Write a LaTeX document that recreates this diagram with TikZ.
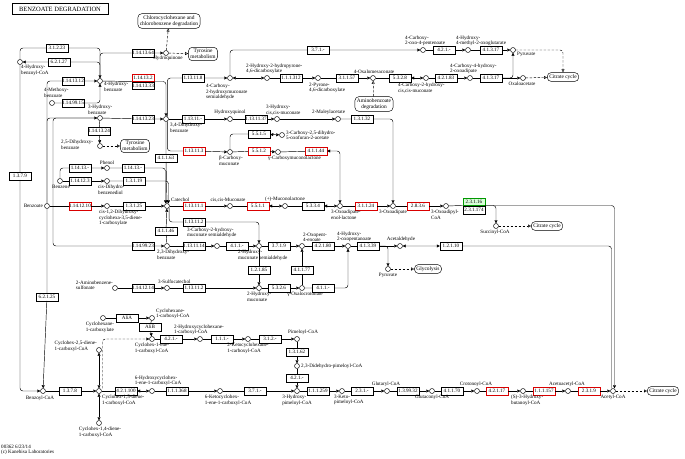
\documentclass[tikz,border=0pt]{standalone}
\usepackage{fontspec}
\setmainfont{Liberation Serif}
\usetikzlibrary{arrows.meta,positioning}
\tikzset{
  cpd/.style={circle,draw,fill=white,minimum size=5pt,inner sep=0pt,line width=0.45pt},
  ec/.style={draw,fill=white,minimum width=22pt,minimum height=7.5pt,inner sep=0.4pt,
    font=\fontsize{5.1}{5.2}\selectfont,line width=0.45pt},
  ecred/.style={ec,draw=red!85!black},
  ecgreen/.style={ec,draw=green!60!black,fill=green!15},
  lbl/.style={font=\fontsize{5.1}{5.3}\selectfont,inner sep=0pt,align=left},
  pmap/.style={draw,rounded corners=4pt,fill=white,font=\fontsize{5.4}{5.8}\selectfont,
    inner sep=2pt,align=center,line width=0.45pt},
  rxn/.style={line width=0.45pt,rounded corners=3pt,-{Triangle[length=3pt,width=3pt]}},
  rev/.style={line width=0.45pt,rounded corners=3pt,
    {Triangle[length=3pt,width=3pt]}-{Triangle[length=3pt,width=3pt]}},
  noarr/.style={line width=0.45pt,rounded corners=3pt},
  maplink/.style={line width=0.45pt,dash pattern=on 2.5pt off 1.5pt,rounded corners=3pt,
    -{Triangle[open,length=3pt,width=3pt]}}
}
\begin{document}
\begin{tikzpicture}[x=1pt,y=-1pt]
\useasboundingbox (0,0) rectangle (685,458);

\node[draw,line width=0.9pt,minimum width=96pt,minimum height=11pt,inner sep=1pt,
  font=\fontsize{6.5}{6.5}\selectfont] (title) at (60,9) {BENZOATE DEGRADATION};

% pathway maps
\node[pmap] (mapChloro) at (169,21) {Chlorocyclohexane and\\chlorobenzene degradation};
\node[pmap] (mapTyr1) at (203,54) {Tyrosine\\metabolism};
\node[pmap] (mapTyr2) at (135,146) {Tyrosine\\metabolism};
\node[pmap] (mapAmino) at (374,104) {Aminobenzoate\\degradation};
\node[pmap] (mapTCA1) at (563,77) {Citrate cycle};
\node[pmap] (mapTCA2) at (547,226) {Citrate cycle};
\node[pmap] (mapGly) at (428,269) {Glycolysis};
\node[pmap] (mapTCA3) at (663,391) {Citrate cycle};

% compounds
\node[cpd] (hbzcoa) at (20,62) {};
\node[cpd] (hqn) at (166,53) {};
\node[cpd] (hbz) at (100,81) {};
\node[cpd] (mbz) at (52,103) {};
\node[cpd] (hbz3) at (100,118) {};
\node[cpd] (pca) at (166,119) {};
\node[cpd] (gen) at (100,146) {};
\node[cpd] (phenol) at (107,168) {};
\node[cpd] (benzene) at (60,181) {};
\node[cpd] (dhbd) at (107,181) {};
\node[cpd] (bz) at (47,206) {};
\node[cpd] (dhcd) at (107,206) {};
\node[cpd] (cat) at (167,206) {};
\node[cpd] (dhb23) at (167,246) {};
\node[cpd] (absulf) at (115,288) {};
\node[cpd] (sulfcat) at (167,288) {};
\node[cpd] (chms) at (230,78) {};
\node[cpd] (hpdc) at (267,78) {};
\node[cpd] (pdc) at (318,78) {};
\node[cpd] (oma) at (373,78) {};
\node[cpd] (chm) at (426,78) {};
\node[cpd] (cha) at (470,78) {};
\node[cpd] (oaa) at (523,78) {};
\node[cpd] (copd) at (423,50) {};
\node[cpd] (hmog) at (468,50) {};
\node[cpd] (pyr1) at (513,50) {};
\node[cpd] (hxq) at (230,119) {};
\node[cpd] (hmuc) at (277,119) {};
\node[cpd] (mla) at (338,119) {};
\node[cpd] (cdof) at (282,135) {};
\node[cpd] (bcm) at (230,152) {};
\node[cpd] (gcml) at (278,152) {};
\node[cpd] (ccm) at (230,206) {};
\node[cpd] (mlac) at (285,206) {};
\node[cpd] (oael) at (340,206) {};
\node[cpd] (oxad) at (393,206) {};
\node[cpd] (oxcoa) at (446,206) {};
\node[cpd] (succoa) at (496,226) {};
\node[cpd] (chmsa) at (217,246) {};
\node[cpd] (hms) at (259,246) {};
\node[cpd] (ope) at (302,246) {};
\node[cpd] (hopa) at (348,246) {};
\node[cpd] (acald) at (400,246) {};
\node[cpd] (pyr2) at (388,269) {};
\node[cpd] (hmuc2) at (259,288) {};
\node[cpd] (oxcr) at (302,288) {};
\node[cpd] (chc) at (103,318) {};
\node[cpd] (chccoa) at (152,318) {};
\node[cpd] (checoa) at (152,339) {};
\node[cpd] (hchcoa) at (200,339) {};
\node[cpd] (kchcoa) at (248,339) {};
\node[cpd] (pimcoa) at (297,339) {};
\node[cpd] (ddpcoa) at (297,366) {};
\node[cpd] (c25coa) at (99,350) {};
\node[cpd] (bzcoa) at (43,391) {};
\node[cpd] (c15coa) at (99,391) {};
\node[cpd] (c14coa) at (99,423) {};
\node[cpd] (hchecoa) at (152,391) {};
\node[cpd] (kchecoa) at (220,391) {};
\node[cpd] (hpcoa) at (297,391) {};
\node[cpd] (kpcoa) at (342,391) {};
\node[cpd] (glcoa) at (387,391) {};
\node[cpd] (gccoa) at (432,391) {};
\node[cpd] (crcoa) at (477,391) {};
\node[cpd] (hbcoa) at (523,391) {};
\node[cpd] (aacoa) at (568,391) {};
\node[cpd] (accoa) at (613,391) {};

% enzymes
\node[ec] (ec31223) at (57,48) {3.1.2.23};
\node[ec] (ec62127) at (59,62) {6.2.1.27};
\node[ec] (ec1141364) at (143,53) {1.14.13.64};
\node[ecred] (ec114132) at (143,77.5) {1.14.13.2};
\node[ec] (ec1141333) at (143,85.5) {1.14.13.33};
\node[ec] (ec1141312) at (73,81) {1.14.13.12};
\node[ec] (ec1149915) at (73,103) {1.14.99.15};
\node[ec] (ec1141323) at (143,119) {1.14.13.23};
\node[ec] (ec1141324) at (99,131) {1.14.13.24};
\node[ec] (ec11413a) at (80,168) {1.14.13.-};
\node[ec] (ec11413b) at (133,168) {1.14.13.-};
\node[ec] (ec114123) at (80,181) {1.14.12.3};
\node[ec] (ec13119) at (134,181) {1.3.1.19};
\node[ecred] (ec1141210) at (80,206) {1.14.12.10};
\node[ec] (ec13125) at (134,206) {1.3.1.25};
\node[ec] (ec41163) at (166,158) {4.1.1.63};
\node[ec] (ec41146) at (166,231) {4.1.1.46};
\node[ec] (ec1149923) at (143,246) {1.14.99.23};
\node[ec] (ec1131114) at (194,246) {1.13.11.14};
\node[ec] (ec4114a) at (237,246) {4.1.1.-};
\node[ec] (ec1131102) at (194,222) {1.13.11.2};
\node[ec] (ec1141214) at (143,288) {1.14.12.14};
\node[ec] (ec1131102b) at (194,288) {1.13.11.2};
\node[ec] (ec3719) at (279,246) {3.7.1.9};
\node[ec] (ec42180) at (323,246) {4.2.1.80};
\node[ec] (ec41339) at (368,246) {4.1.3.39};
\node[ec] (ec12110) at (451,246) {1.2.1.10};
\node[ec] (ec12185) at (259,270) {1.2.1.85};
\node[ec] (ec41177) at (302,270) {4.1.1.77};
\node[ec] (ec5326) at (279,288) {5.3.2.6};
\node[ec] (ec4114b) at (323,288) {4.1.1.-};
\node[ecred] (ec113111) at (194,206) {1.13.11.1};
\node[ecred] (ec5511) at (258,206) {5.5.1.1};
\node[ec] (ec5334) at (313,206) {5.3.3.4};
\node[ecred] (ec31124) at (366,206) {3.1.1.24};
\node[ecred] (ec2836) at (418,206) {2.8.3.6};
\node[ecgreen] (ec23116) at (474,201.5) {2.3.1.16};
\node[ec] (ec231174) at (474,210) {2.3.1.174};
\node[ecred] (ec113113) at (194,151) {1.13.11.3};
\node[ecred] (ec5512) at (259,151) {5.5.1.2};
\node[ecred] (ec41144) at (316,151) {4.1.1.44};
\node[ec] (ec5515) at (259,134) {5.5.1.5};
\node[ec] (ec11311) at (193,119) {1.13.11.-};
\node[ec] (ec1131137) at (256,119) {1.13.11.37};
\node[ec] (ec13132) at (362,119) {1.3.1.32};
\node[ec] (ec113118) at (193,78) {1.13.11.8};
\node[ec] (ec111312) at (291,78) {1.1.1.312};
\node[ec] (ec31157) at (347,78) {3.1.1.57};
\node[ec] (ec5328) at (400,78) {5.3.2.8};
\node[ec] (ec42183) at (446,78) {4.2.1.83};
\node[ec] (ec41317a) at (491,78) {4.1.3.17};
\node[ec] (ec371a) at (318,50) {3.7.1.-};
\node[ec] (ec421a) at (444,50) {4.2.1.-};
\node[ec] (ec41317b) at (491,50) {4.1.3.17};
\node[ec] (ec1379) at (20,176) {1.3.7.9};
\node[ec] (ec62125) at (47,297) {6.2.1.25};
\node[ec] (ecAliA) at (127,318) {AliA};
\node[ec] (ecAliB) at (150,327) {AliB};
\node[ec] (ec421b) at (171,339) {4.2.1.-};
\node[ec] (ec111a) at (222,339) {1.1.1.-};
\node[ec] (ec312) at (270,339) {3.1.2.-};
\node[ec] (ec13162) at (297,352) {1.3.1.62};
\node[ec] (ec421c) at (297,378) {4.2.1.-};
\node[ec] (ec1378) at (70,391) {1.3.7.8};
\node[ec] (ec421100) at (126,391) {4.2.1.100};
\node[ec] (ec111368) at (177,391) {1.1.1.368};
\node[ec] (ec371b) at (255,391) {3.7.1.-};
\node[ec] (ec111259) at (318,391) {1.1.1.259};
\node[ec] (ec231a) at (362,391) {2.3.1.-};
\node[ec] (ec139932) at (408,391) {1.3.99.32};
\node[ec] (ec41170) at (452,391) {4.1.1.70};
\node[ecred] (ec42117) at (497,391) {4.2.1.17};
\node[ecred] (ec111157) at (544,391) {1.1.1.157};
\node[ecred] (ec2319) at (589,391) {2.3.1.9};

% labels
\node[lbl,anchor=north west] (lhbzcoa) at (21,65) {4-Hydroxy-\\benzoyl-CoA};
\node[lbl,anchor=north] (lhqn) at (168,56) {Hydroquinone};
\node[lbl,anchor=north west] (lhbz) at (104,82) {4-Hydroxy-\\benzoate};
\node[lbl,anchor=north west] (lmbz) at (44,88) {4-Methoxy-\\benzoate};
\node[lbl,anchor=north west] (lhbz3) at (88,105) {3-Hydroxy-\\benzoate};
\node[lbl,anchor=north west] (lpca) at (170,123) {3,4-Dihydroxy-\\benzoate};
\node[lbl,anchor=north west] (lgen) at (61,140) {2,5-Dihydroxy-\\benzoate};
\node[lbl,anchor=south] (lphenol) at (107,165) {Phenol};
\node[lbl,anchor=north] (lbenzene) at (61,185) {Benzene};
\node[lbl,anchor=north west] (ldhbd) at (98,185) {cis-Dihydro-\\benzenediol};
\node[lbl,anchor=east] (lbz) at (43,206) {Benzoate};
\node[lbl,anchor=north west] (ldhcd) at (99,210) {cis-1,2-Dihydroxy-\\cyclohexa-3,5-diene-\\1-carboxylate};
\node[lbl,anchor=south west] (lcat) at (171,201.5) {Catechol};
\node[lbl,anchor=north west] (ldhb23) at (157,250) {2,3-Dihydroxy-\\benzoate};
\node[lbl,anchor=south east] (labsulf) at (113,290) {2-Aminobenzene-\\sulfonate};
\node[lbl,anchor=south west] (lsulfcat) at (158,284) {3-Sulfocatechol};
\node[lbl,anchor=north west] (lchms) at (206,84) {4-Carboxy-\\2-hydroxymuconate\\semialdehyde};
\node[lbl,anchor=south west] (lhpdc) at (246,74) {2-Hydroxy-2-hydropyrone-\\4,6-dicarboxylate};
\node[lbl,anchor=north west] (lpdc) at (309,83) {2-Pyrone-\\4,6-dicarboxylate};
\node[lbl,anchor=south] (loma) at (374,74) {4-Oxalomesaconate};
\node[lbl,anchor=north west] (lchm) at (398,83) {4-Carboxy-2-hydroxy-\\cis,cis-muconate};
\node[lbl,anchor=south west] (lcha) at (450,74) {4-Carboxy-4-hydroxy-\\2-oxoadipate};
\node[lbl,anchor=north] (loaa) at (522,82) {Oxaloacetate};
\node[lbl,anchor=south west] (lcopd) at (405,46) {4-Carboxy-\\2-oxo-4-pentenoate};
\node[lbl,anchor=south west] (lhmog) at (456,46) {4-Hydroxy-\\4-methyl-2-oxoglutarate};
\node[lbl,anchor=west] (lpyr1) at (517,54) {Pyruvate};
\node[lbl,anchor=south] (lhxq) at (230,115) {Hydroxyquinol};
\node[lbl,anchor=south west] (lhmuc) at (266,115) {3-Hydroxy-\\cis,cis-muconate};
\node[lbl,anchor=south west] (lmla) at (312,115) {2-Maleylacetate};
\node[lbl,anchor=west] (lcdof) at (286,135) {3-Carboxy-2,5-dihydro-\\5-oxofuran-2-acetate};
\node[lbl,anchor=north west] (lbcm) at (219,156) {β-Carboxy-\\muconate};
\node[lbl,anchor=north west] (lgcml) at (268,156) {γ-Carboxymuconolactone};
\node[lbl,anchor=south] (lccm) at (228,202) {cis,cis-Muconate};
\node[lbl,anchor=south] (lmlac) at (285,202) {(+)-Muconolactone};
\node[lbl,anchor=north west] (loael) at (331,210) {3-Oxoadipate-\\enol-lactone};
\node[lbl,anchor=north] (loxad) at (393,210) {3-Oxoadipate};
\node[lbl,anchor=north west] (loxcoa) at (431,210) {3-Oxoadipyl-\\CoA};
\node[lbl,anchor=north] (lsuccoa) at (495,230) {Succinyl-CoA};
\node[lbl,anchor=south west] (lchmsa) at (187,238) {3-Carboxy-2-hydroxy-\\muconate semialdehyde};
\node[lbl,anchor=north west] (lhms) at (238,250) {2-Hydroxy-\\muconate semialdehyde};
\node[lbl,anchor=south west] (lope) at (303,242) {2-Oxopent-\\4-enoate};
\node[lbl,anchor=south west] (lhopa) at (337,242) {4-Hydroxy-\\2-oxopentanoate};
\node[lbl,anchor=south] (lacald) at (401,242) {Acetaldehyde};
\node[lbl,anchor=north] (lpyr2) at (388,273) {Pyruvate};
\node[lbl,anchor=north west] (lhmuc2) at (247,292) {2-Hydroxy-\\muconate};
\node[lbl,anchor=north] (loxcr) at (305,292) {γ-Oxalocrotonate};
\node[lbl,anchor=north] (lchc) at (100,322) {Cyclohexane-\\1-carboxylate};
\node[lbl,anchor=south west] (lchccoa) at (156,319) {Cyclohexane-\\1-carboxyl-CoA};
\node[lbl,anchor=north] (lchecoa) at (152,343) {Cyclohex-1-ene-\\1-carboxyl-CoA};
\node[lbl,anchor=south] (lhchcoa) at (199,335) {2-Hydroxycyclohexane-\\1-carboxyl-CoA};
\node[lbl,anchor=north] (lkchcoa) at (248,343) {2-Ketocyclohexane-\\1-carboxyl-CoA};
\node[lbl,anchor=south west] (lpimcoa) at (288,335) {Pimeloyl-CoA};
\node[lbl,anchor=west] (lddpcoa) at (301,366) {2,3-Didehydro-pimeloyl-CoA};
\node[lbl,anchor=north east] (lc25coa) at (97,341) {Cyclohex-2,5-diene-\\1-carboxyl-CoA};
\node[lbl,anchor=north] (lbzcoa) at (40,396) {Benzoyl-CoA};
\node[lbl,anchor=north west] (lc15coa) at (102,395) {Cyclohex-1,5-diene-\\1-carboxyl-CoA};
\node[lbl,anchor=north] (lc14coa) at (100,427) {Cyclohex-1,4-diene-\\1-carboxyl-CoA};
\node[lbl,anchor=south] (lhchecoa) at (158,386) {6-Hydroxycyclohex-\\1-ene-1-carboxyl-CoA};
\node[lbl,anchor=north] (lkchecoa) at (228,395) {6-Ketocyclohex-\\1-ene-1-carboxyl-CoA};
\node[lbl,anchor=north] (lhpcoa) at (297,395) {3-Hydroxy-\\pimeloyl-CoA};
\node[lbl,anchor=north west] (lkpcoa) at (334,395) {3-Keto-\\pimeloyl-CoA};
\node[lbl,anchor=south] (lglcoa) at (386,387) {Glutaryl-CoA};
\node[lbl,anchor=north] (lgccoa) at (432,395) {Glutaconyl-CoA};
\node[lbl,anchor=south] (lcrcoa) at (476,387) {Crotonoyl-CoA};
\node[lbl,anchor=north west] (lhbcoa) at (511,395) {(S)-3-Hydroxy-\\butanoyl-CoA};
\node[lbl,anchor=south] (laacoa) at (567,387) {Acetoacetyl-CoA};
\node[lbl,anchor=north] (laccoa) at (613,395) {Acetyl-CoA};
\node[lbl,anchor=north west] (footer) at (1,445) {00362 6/23/14\\(c) Kanehisa Laboratories};

% reactions, upper part
\draw[rxn] (hbzcoa) |- (ec31223) -| (hbz);
\draw[rxn] (hbz) |- (ec62127) -- (hbzcoa);
\draw[rxn] (hbz) |- (ec1141364) -- (hqn);
\draw[maplink] (hqn) -- (mapChloro);
\draw[maplink] (hqn) -- (mapTyr1);
\draw[rxn] (bz) |- (ec1141312) -- (hbz);
\draw[rxn] (mbz) -- (ec1149915) -| (hbz);
\draw[noarr] (hbz) -- (ec114132.south west);
\draw[rxn] (ec114132.south east) -| (pca);
\draw[rxn] (bz) |- (hbz3);
\draw[rxn] (hbz3) -- (ec1141323) -- (pca);
\draw[rxn] (hbz3) -- (ec1141324) -- (gen);
\draw[maplink] (gen) -- (mapTyr2);
\draw[rxn] (hbz3) -- ++(-47,0) |- (ec1149923) -- (dhb23);
\draw[rxn] (benzene) |- (ec11413a) -- (phenol);
\draw[rxn] (phenol) -- (ec11413b) -| ([xshift=-1.5pt]cat.north);
\draw[rxn] (benzene) -- (ec114123) -- (dhbd);
\draw[rxn] (dhbd) -- (ec13119) -| ([xshift=1.5pt]cat.north);
\draw[rxn] (bz) -- (ec1141210) -- (dhcd);
\draw[rxn] (dhcd) -- (ec13125) -- (cat);
\draw[rxn] (pca) -- (ec41163) -- (cat);
\draw[rxn] (dhb23) -- (ec41146) -- (cat);
\draw[rxn] (cat) -- (ec113111) -- (ccm);
\draw[rev] (ccm) -- (ec5511) -- (mlac);
\draw[rev] (mlac) -- (ec5334) -- (oael);
\draw[rxn] (oael) -- (ec31124) -- (oxad);
\draw[rxn] (oxad) -- (ec2836) -- (oxcoa);
\draw[noarr] (oxcoa) -- (ec23116.south west);
\draw[rxn] (ec23116.south east) -| ([xshift=1.5pt]accoa.north);
\draw[rxn] (ec23116.south east) -| (succoa);
\draw[rev] ([xshift=-1.5pt]accoa.north) |- (ec12110) -- (acald);
\draw[maplink] (succoa) -- (mapTCA2);
\draw[maplink] (accoa) -- (mapTCA3);
\draw[rxn] (dhb23) -- (ec1131114) -- (chmsa);
\draw[rxn] (chmsa) -- (ec4114a) -- (hms);
\draw[rxn] (cat.-40) |- (ec1131102) -| (hms);
\draw[rxn] (hms) -- (ec3719) -- (ope);
\draw[rxn] (ope) -- (ec42180) -- (hopa);
\draw[noarr] (hopa) -- (ec41339);
\draw[rxn] (ec41339) -- (acald);
\draw[rxn] (ec41339) -| (pyr2);
\draw[maplink] (pyr2) -- (mapGly);
\draw[rxn] (hms) -- (ec12185) -- (hmuc2);
\draw[rxn] (oxcr) -- (ec41177) -- (ope);
\draw[rxn] (hmuc2) -- (ec5326) -- (oxcr);
\draw[rxn] (oxcr) -- (ec4114b) -| (hopa);
\draw[rxn] (absulf) -- (ec1141214) -- (sulfcat);
\draw[rxn] (sulfcat) -- (ec1131102b) -- (hmuc2);
\draw[rxn] (pca) -- (ec11311) -- (hxq);
\draw[rxn] (hxq) -- (ec1131137) -- (hmuc);
\draw[rxn] (hmuc) -- (mla);
\draw[rxn] (mla) -- (ec13132) -| (oxad);
\draw[rxn] (pca.-60) |- (ec113113) -- (bcm);
\draw[rev] (bcm) |- (ec5515) -- (cdof);
\draw[rxn] (bcm) -- (ec5512) -- (gcml);
\draw[rev] (gcml) -- (ec41144) -| (oael);
\draw[rxn] (pca.60) |- (ec113118) -- (chms);
\draw[rev] (chms) -- (hpdc);
\draw[rxn] (hpdc) -- (ec111312) -- (pdc);
\draw[rxn] (pdc) -- (ec31157) -- (oma);
\draw[rev] (oma) -- (ec5328) -- (chm);
\draw[rxn] (chm) -- (ec42183) -- (cha);
\draw[rxn] (cha) -- (ec41317a) -- (oaa);
\draw[rxn] (ec41317a) -| (pyr1);
\draw[rxn] (chms) |- (ec371a) -- (copd);
\draw[rxn] (copd) -- (ec421a) -- (hmog);
\draw[rxn] (hmog) -- (ec41317b) -- (pyr1);
\draw[maplink] (mapAmino) -- (oma);
\draw[maplink] (pyr1) -| (mapTCA1);
\draw[maplink] (oaa) -- (mapTCA1);
% lower part
\draw[rxn] (hbzcoa) -- (ec1379) |- (bzcoa);
\draw[rxn] (bz) -- (ec62125) -- (bzcoa);
\draw[rxn] (chc) -- (ecAliA) -- (chccoa);
\draw[rxn] (chccoa) -- (ecAliB) -- (checoa);
\draw[rxn] (checoa) -- (ec421b) -- (hchcoa);
\draw[rxn] (hchcoa) -- (ec111a) -- (kchcoa);
\draw[rxn] (kchcoa) -- (ec312) -- (pimcoa);
\draw[rxn] (pimcoa) -- (ec13162) -- (ddpcoa);
\draw[rxn] (ddpcoa) -- (ec421c) -- (hpcoa);
\draw[rxn,dash pattern=on 2.5pt off 1.5pt] ([xshift=3.5pt]c15coa.north) |- (checoa);
\draw[rev] (c25coa) -- (c15coa);
\draw[rev] (c15coa) -- (c14coa);
\draw[rxn] (bzcoa) -- (ec1378) -- (c15coa);
\draw[rev] (c15coa) -- (ec421100) -- (hchecoa);
\draw[rxn] (hchecoa) -- (ec111368) -- (kchecoa);
\draw[rxn] (kchecoa) -- (ec371b) -- (hpcoa);
\draw[rxn] (hpcoa) -- (ec111259) -- (kpcoa);
\draw[rxn] (kpcoa) -- (ec231a) -- (glcoa);
\draw[rxn] (glcoa) -- (ec139932) -- (gccoa);
\draw[rxn] (gccoa) -- (ec41170) -- (crcoa);
\draw[rxn] (crcoa) -- (ec42117) -- (hbcoa);
\draw[rxn] (hbcoa) -- (ec111157) -- (aacoa);
\draw[rxn] (aacoa) -- (ec2319) -- (accoa);
\end{tikzpicture}
\end{document}
